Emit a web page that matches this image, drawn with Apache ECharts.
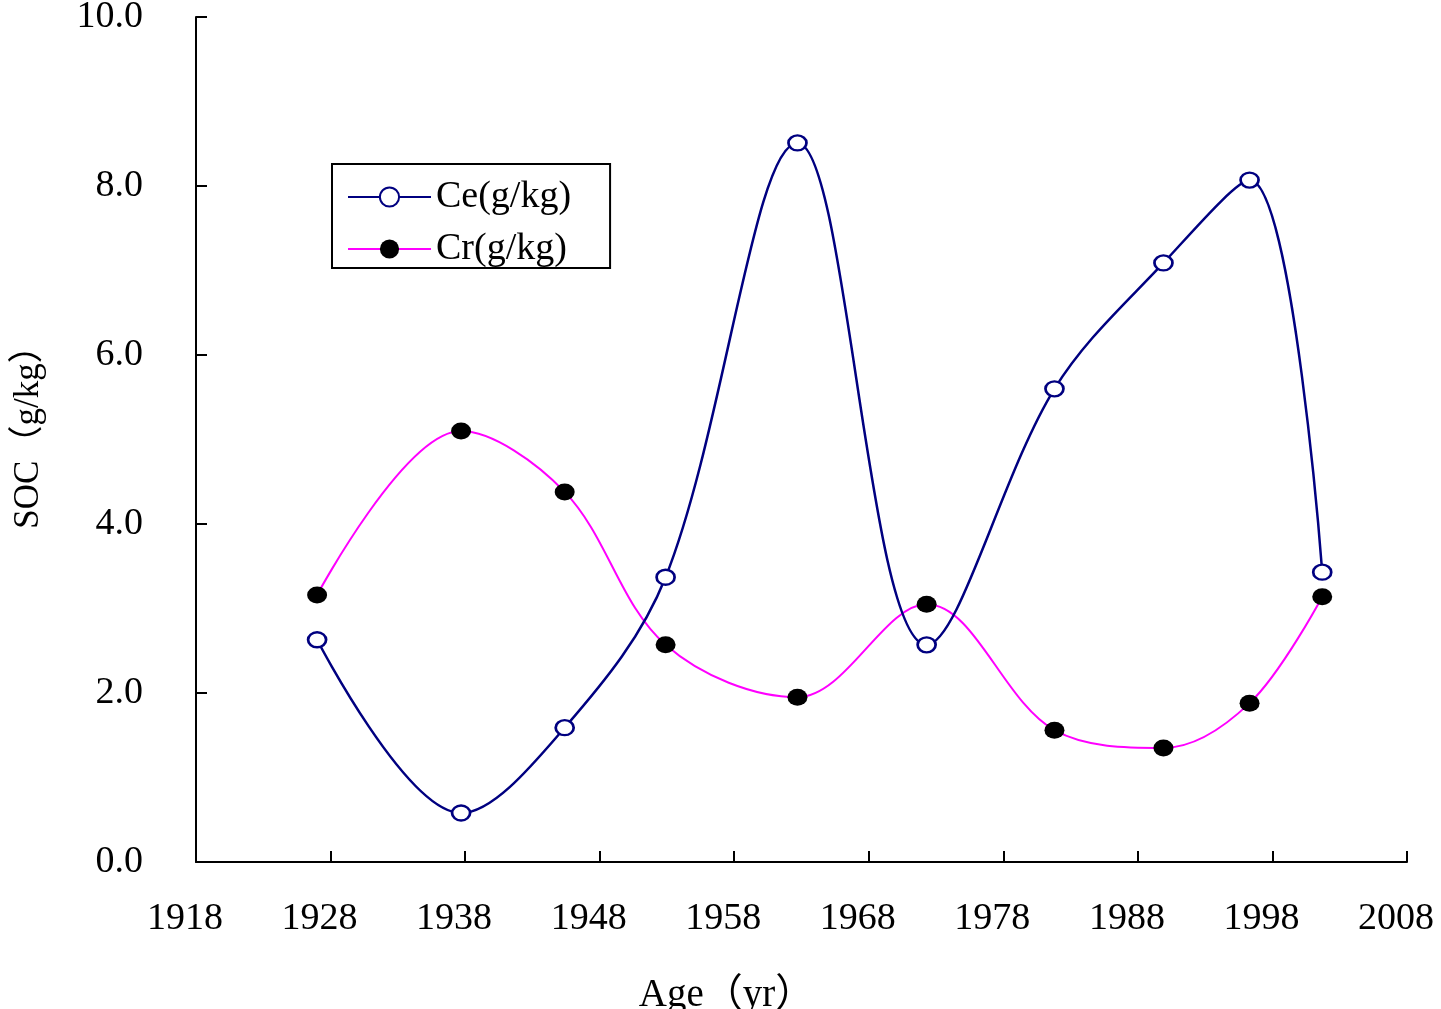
<!DOCTYPE html>
<html>
<head>
<meta charset="utf-8">
<script src="https://cdn.jsdelivr.net/npm/echarts@6/dist/echarts.min.js"></script>
<style>
  html, body { margin: 0; padding: 0; background: #fff; }
  #chart { width: 1441px; height: 1009px; }
</style>
</head>
<body>
<div id="chart"></div>
<script>
// Sampling ages (yr) shared by both soil organic carbon fractions
const ages = [1927.0, 1937.7, 1945.4, 1952.9, 1962.7, 1972.3, 1981.8, 1989.9, 1996.3, 2001.7];
// Ce and Cr content, g/kg
const ceValues = [2.63, 0.58, 1.59, 3.37, 8.51, 2.57, 5.60, 7.09, 8.07, 3.43];
const crValues = [3.16, 5.10, 4.38, 2.57, 1.95, 3.05, 1.56, 1.35, 1.88, 3.14];
// Axis ticks
const ageTicks = [1918, 1928, 1938, 1948, 1958, 1968, 1978, 1988, 1998, 2008];
const socTicks = [0, 2, 4, 6, 8, 10];

const FONT = '"Liberation Serif", "Noto Sans CJK SC", serif';

const chart = echarts.init(document.getElementById('chart'));

const pairs = (xs, ys) => xs.map((x, i) => [x, ys[i]]);

chart.setOption({
  animation: false,
  backgroundColor: '#fff',
  grid: { left: 196, right: 34, top: 17, bottom: 147, containLabel: false, outerBoundsMode: 'none' },
  legend: {
    left: 332,
    top: 164,
    orient: 'vertical',
    padding: [14, 39, 0, 15],
    itemGap: 14,
    itemWidth: 83,
    itemHeight: 24,
    borderColor: '#000',
    borderWidth: 2,
    borderRadius: 0,
    backgroundColor: '#fff',
    textStyle: { fontFamily: FONT, fontSize: 38, color: '#000' },
    data: ['Ce(g/kg)', 'Cr(g/kg)']
  },
  xAxis: {
    type: 'value',
    min: ageTicks[0],
    max: ageTicks[ageTicks.length - 1],
    name: 'Age（yr）',
    nameLocation: 'middle',
    nameGap: 114,
    nameTextStyle: { fontFamily: FONT, fontSize: 39, color: '#000', padding: [0, 150, 0, 0] },
    axisLine: { show: true, lineStyle: { color: '#000', width: 2 } },
    axisTick: { show: true, inside: true, length: 11, customValues: ageTicks, lineStyle: { color: '#000', width: 2 } },
    axisLabel: {
      customValues: ageTicks,
      margin: 38,
      padding: [0, 22, 0, 0],
      fontFamily: FONT,
      fontSize: 38,
      color: '#000',
      formatter: v => String(v)
    },
    splitLine: { show: false }
  },
  yAxis: {
    type: 'value',
    min: socTicks[0],
    max: socTicks[socTicks.length - 1],
    interval: 2,
    name: 'SOC（g/kg）',
    nameLocation: 'middle',
    nameRotate: 90,
    nameGap: 150,
    nameTextStyle: { fontFamily: FONT, fontSize: 35, color: '#000', padding: [0, 0, 0, 22] },
    axisLine: { show: true, lineStyle: { color: '#000', width: 2 } },
    axisTick: { show: true, inside: true, length: 11, lineStyle: { color: '#000', width: 2 } },
    axisLabel: {
      margin: 53,
      padding: [14, 0, 0, 0],
      fontFamily: FONT,
      fontSize: 38,
      color: '#000',
      formatter: v => v.toFixed(1)
    },
    splitLine: { show: false }
  },
  series: [
    {
      name: 'Ce(g/kg)',
      type: 'line',
      smooth: 0.35,
      data: pairs(ages, ceValues),
      symbol: 'circle',
      symbolSize: [18, 15],
      lineStyle: { color: '#000080', width: 2.5 },
      itemStyle: { color: '#fff', borderColor: '#000080', borderWidth: 2.5 },
      z: 3
    },
    {
      name: 'Cr(g/kg)',
      type: 'line',
      smooth: 0.35,
      data: pairs(ages, crValues),
      symbol: 'circle',
      symbolSize: [20, 17],
      lineStyle: { color: '#ff00ff', width: 2 },
      itemStyle: { color: '#000', borderColor: '#000', borderWidth: 0 },
      z: 2
    }
  ]
});
</script>
</body>
</html>
